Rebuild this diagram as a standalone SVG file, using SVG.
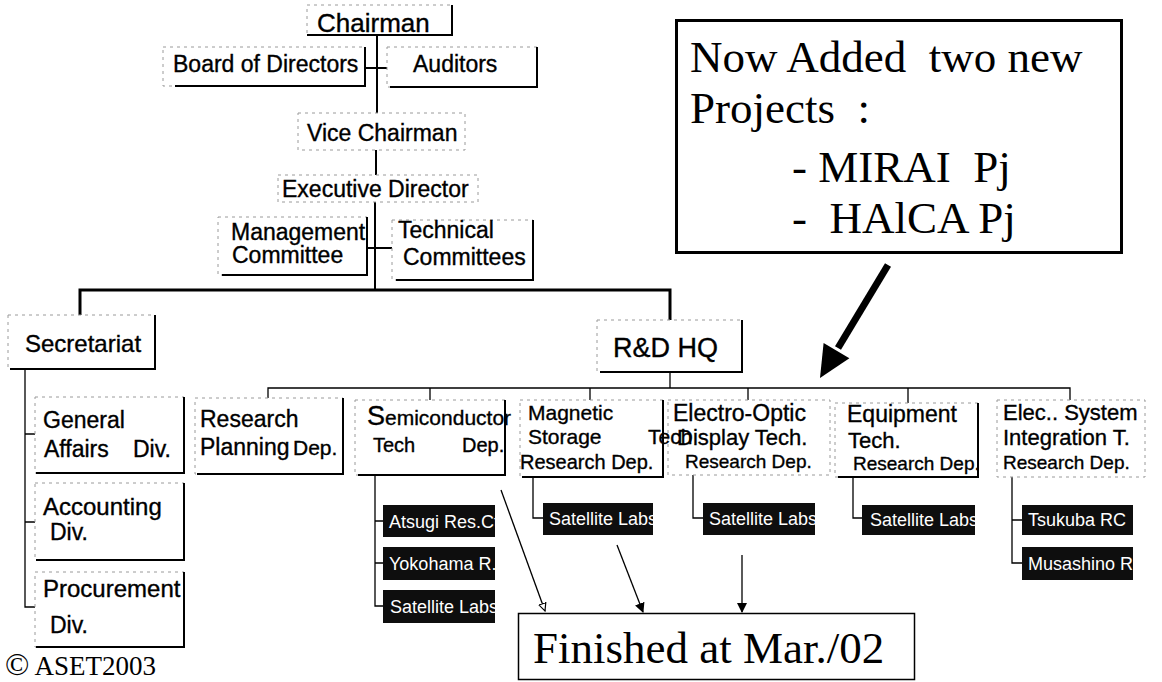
<svg xmlns="http://www.w3.org/2000/svg" width="1162" height="682" viewBox="0 0 1162 682">
  <style>
    .t { font-family: "Liberation Sans", Arial, sans-serif; fill: #000; stroke: #000; stroke-width: 0.35; font-size: 23px; }
    .w { font-family: "Liberation Sans", Arial, sans-serif; fill: #fff; font-size: 18px; }
    .sf { font-family: "Liberation Serif", "Times New Roman", serif; fill: #000; font-size: 45px; }
    .bd { fill: #fff; stroke: #9a9a9a; stroke-width: 1; stroke-dasharray: 3 4; }
    .bs { fill: none; stroke: #000; stroke-width: 2; }
    .lab { fill: #0e0e0e; }
    .c { fill: none; stroke: #000; stroke-width: 2; }
    .c1 { fill: none; stroke: #000; stroke-width: 1.3; }
    .bus { fill: none; stroke: #000; stroke-width: 3; }
  </style>
  <defs>
    <marker id="ah" viewBox="0 0 10 10" refX="9" refY="5" markerWidth="10" markerHeight="10" markerUnits="userSpaceOnUse" orient="auto">
      <path d="M0,0 L10,5 L0,10 Z" fill="#000"/>
    </marker>
    <marker id="ah-open" viewBox="0 0 10 10" refX="9" refY="5" markerWidth="9" markerHeight="9" markerUnits="userSpaceOnUse" orient="auto">
      <path d="M0.5,1 L9,5 L0.5,9 Z" fill="#fff" stroke="#000" stroke-width="1.3"/>
    </marker>
  </defs>
  <rect width="1162" height="682" fill="#fff"/>

  <!-- connectors -->
  <g id="connectors">
    <path class="c" d="M377,35 V113"/>
    <path class="c" d="M365,68 H387"/>
    <path class="c" d="M376,150 V175"/>
    <path class="c" d="M375,202 V290"/>
    <path class="c" d="M367,248 H392"/>
    <path class="bus" d="M80,315 V290 H670 V320"/>
    <path class="c1" d="M25,369 V607 H35 M25,434 H35 M25,522 H35"/>
    <path class="c1" d="M670,372 V388"/>
    <path class="c1" d="M268,399 V388 H1070 V400 M430,388 V400 M590,388 V400 M748,388 V400 M908,388 V403"/>
    <path class="c1" d="M375,475 V606 H383 M375,521 H383 M375,563 H383"/>
    <path class="c1" d="M533,477 V518 H543"/>
    <path class="c1" d="M693,475 V518 H703"/>
    <path class="c1" d="M853,477 V518 H862"/>
    <path class="c1" d="M1012,477 V563 H1022 M1012,520 H1022"/>
    <!-- pointers to the closing note -->
    <path class="c1" d="M501,490 L545,611" marker-end="url(#ah-open)"/>
    <path class="c1" d="M617,545 L643,612" marker-end="url(#ah)"/>
    <path class="c1" d="M742,555 V612" marker-end="url(#ah)"/>
    <!-- heavy pointer from the project note -->
    <path d="M888,265 L838,348" stroke="#000" stroke-width="7" fill="none"/>
    <path d="M820,378 L823.6,342.9 L849.4,358.3 Z" fill="#000"/>
  </g>

  <!-- top management -->
  <g id="chairman">
    <rect class="bd" x="307" y="5" width="145" height="30"/>
    <path class="bs" d="M452,5 V35 H307"/>
    <text class="t" x="317" y="32" style="font-size:26px">Chairman</text>
  </g>
  <g id="board">
    <rect class="bd" x="163" y="47" width="202" height="39"/>
    <path class="bs" d="M365,47 V86 H175"/>
    <text class="t" x="173" y="72">Board of Directors</text>
  </g>
  <g id="auditors">
    <rect class="bd" x="387" y="47" width="150" height="40"/>
    <path class="bs" d="M537,47 V87 H390"/>
    <text class="t" x="413" y="72">Auditors</text>
  </g>
  <g id="vice-chairman">
    <rect class="bd" x="298" y="113" width="167" height="37"/>
    <text class="t" x="307" y="141">Vice Chairman</text>
  </g>
  <g id="executive-director">
    <rect class="bd" x="278" y="175" width="200" height="27"/>
    <text class="t" x="282" y="197">Executive Director</text>
  </g>
  <g id="management-committee">
    <rect class="bd" x="218" y="217" width="149" height="58"/>
    <path class="bs" d="M367,217 V275 H222"/>
    <text class="t" x="231" y="240">Management</text>
    <text class="t" x="232" y="263">Committee</text>
  </g>
  <g id="technical-committees">
    <rect class="bd" x="392" y="220" width="141" height="60"/>
    <path class="bs" d="M533,220 V280 H396"/>
    <text class="t" x="398" y="238">Technical</text>
    <text class="t" x="403" y="265">Committees</text>
  </g>

  <!-- secretariat side -->
  <g id="secretariat">
    <rect class="bd" x="8" y="315" width="147" height="54"/>
    <path class="bs" d="M155,315 V369 H10"/>
    <text class="t" x="25" y="352" style="font-size:24px">Secretariat</text>
  </g>
  <g id="general-affairs">
    <rect class="bd" x="35" y="397" width="149" height="76"/>
    <path class="bs" d="M184,397 V473 H36"/>
    <text class="t" x="43" y="428">General</text>
    <text class="t" x="44" y="457">Affairs</text>
    <text class="t" x="133" y="457">Div.</text>
  </g>
  <g id="accounting">
    <rect class="bd" x="35" y="483" width="149" height="77"/>
    <path class="bs" d="M184,483 V560 H36"/>
    <text class="t" x="43" y="515" style="font-size:24px">Accounting</text>
    <text class="t" x="50" y="540">Div.</text>
  </g>
  <g id="procurement">
    <rect class="bd" x="35" y="572" width="149" height="75"/>
    <path class="bs" d="M184,572 V647 H36"/>
    <text class="t" x="43" y="597" style="font-size:24px">Procurement</text>
    <text class="t" x="50" y="633">Div.</text>
  </g>

  <!-- R&D headquarters -->
  <g id="rd-hq">
    <rect class="bd" x="597" y="320" width="145" height="52"/>
    <path class="bs" d="M742,320 V372 H600"/>
    <text class="t" x="613" y="357" style="font-size:27px">R&amp;D HQ</text>
  </g>
  <g id="research-planning">
    <rect class="bd" x="195" y="398" width="148" height="76"/>
    <path class="bs" d="M343,398 V474 H197"/>
    <text class="t" x="200" y="427">Research</text>
    <text class="t" x="200" y="455">Planning</text>
    <text class="t" x="293" y="455" style="font-size:21px">Dep.</text>
  </g>
  <g id="semiconductor">
    <rect class="bd" x="355" y="400" width="150" height="75"/>
    <path class="bs" d="M505,400 V475 H358"/>
    <text class="t" x="367" y="425" style="font-size:21px"><tspan style="font-size:27px">S</tspan>emiconductor</text>
    <text class="t" x="373" y="452" style="font-size:20px">Tech</text>
    <text class="t" x="462" y="452" style="font-size:20px">Dep.</text>
  </g>
  <g id="magnetic-storage">
    <rect class="bd" x="520" y="400" width="143" height="77"/>
    <path class="bs" d="M663,400 V477 H522"/>
    <text class="t" x="528" y="420" style="font-size:21px">Magnetic</text>
    <text class="t" x="528" y="444" style="font-size:21px">Storage</text>
    <text class="t" x="520" y="469" style="font-size:20px">Research Dep.</text>
  </g>
  <g id="electro-optic">
    <rect class="bd" x="668" y="400" width="162" height="75"/>
    <text class="t" x="673" y="421" style="font-size:23px">Electro-Optic</text>
    <text class="t" x="677" y="445" style="font-size:22px">Display Tech.</text>
    <text class="t" x="685" y="468" style="font-size:19px">Research Dep.</text>
  </g>
  <!-- spill-over word of the magnetic storage box, drawn over its neighbour -->
  <text class="t" x="648" y="444" style="font-size:21px">Tech</text>
  <g id="equipment">
    <rect class="bd" x="835" y="403" width="143" height="74"/>
    <path class="bs" d="M978,403 V477 H838"/>
    <text class="t" x="847" y="422" style="font-size:23px">Equipment</text>
    <text class="t" x="848" y="448" style="font-size:22px">Tech.</text>
    <text class="t" x="853" y="470" style="font-size:19px">Research Dep.</text>
  </g>
  <g id="elec-system">
    <rect class="bd" x="997" y="400" width="148" height="77"/>
    <text class="t" x="1003" y="420" style="font-size:22px">Elec.. System</text>
    <text class="t" x="1003" y="445" style="font-size:22px">Integration T.</text>
    <text class="t" x="1003" y="469" style="font-size:19px">Research Dep.</text>
  </g>

  <!-- research centres and labs -->
  <g id="atsugi"><svg x="383" y="505" width="112" height="32"><rect class="lab" width="112" height="32"/><text class="w" x="6" y="23">Atsugi Res.Ct</text></svg></g>
  <g id="yokohama"><svg x="383" y="547" width="112" height="33"><rect class="lab" width="112" height="33"/><text class="w" x="6" y="23">Yokohama R.</text></svg></g>
  <g id="semi-satellite"><svg x="383" y="590" width="112" height="33"><rect class="lab" width="112" height="33"/><text class="w" x="7" y="23">Satellite Labs</text></svg></g>
  <g id="mag-satellite"><svg x="543" y="503" width="110" height="32"><rect class="lab" width="110" height="32"/><text class="w" x="6" y="22">Satellite Labs</text></svg></g>
  <g id="eo-satellite"><svg x="703" y="503" width="112" height="32"><rect class="lab" width="112" height="32"/><text class="w" x="6" y="22">Satellite Labs</text></svg></g>
  <g id="eq-satellite"><svg x="862" y="505" width="113" height="30"><rect class="lab" width="113" height="30"/><text class="w" x="8" y="21">Satellite Labs</text></svg></g>
  <g id="tsukuba"><svg x="1022" y="505" width="111" height="30"><rect class="lab" width="111" height="30"/><text class="w" x="6" y="21">Tsukuba RC</text></svg></g>
  <g id="musashino"><svg x="1022" y="547" width="111" height="33"><rect class="lab" width="111" height="33"/><text class="w" x="6" y="23">Musashino R</text></svg></g>

  <!-- notes -->
  <g id="note-projects">
    <rect x="676.5" y="20.5" width="445" height="232" fill="#fff" stroke="#000" stroke-width="3"/>
    <text class="sf" x="690" y="72" xml:space="preserve">Now Added  two new</text>
    <text class="sf" x="690" y="123" xml:space="preserve">Projects  :</text>
    <text class="sf" x="792" y="182" xml:space="preserve">- MIRAI  Pj</text>
    <text class="sf" x="792" y="233" xml:space="preserve">-  HAlCA Pj</text>
  </g>
  <g id="note-finished">
    <rect x="518.5" y="613.5" width="396" height="66" fill="#fff" stroke="#000" stroke-width="1.5"/>
    <text class="sf" x="533" y="663">Finished at Mar./02</text>
  </g>
  <text class="sf" x="5" y="675" style="font-size:27px"><tspan style="font-size:32px">©</tspan> ASET2003</text>
</svg>
